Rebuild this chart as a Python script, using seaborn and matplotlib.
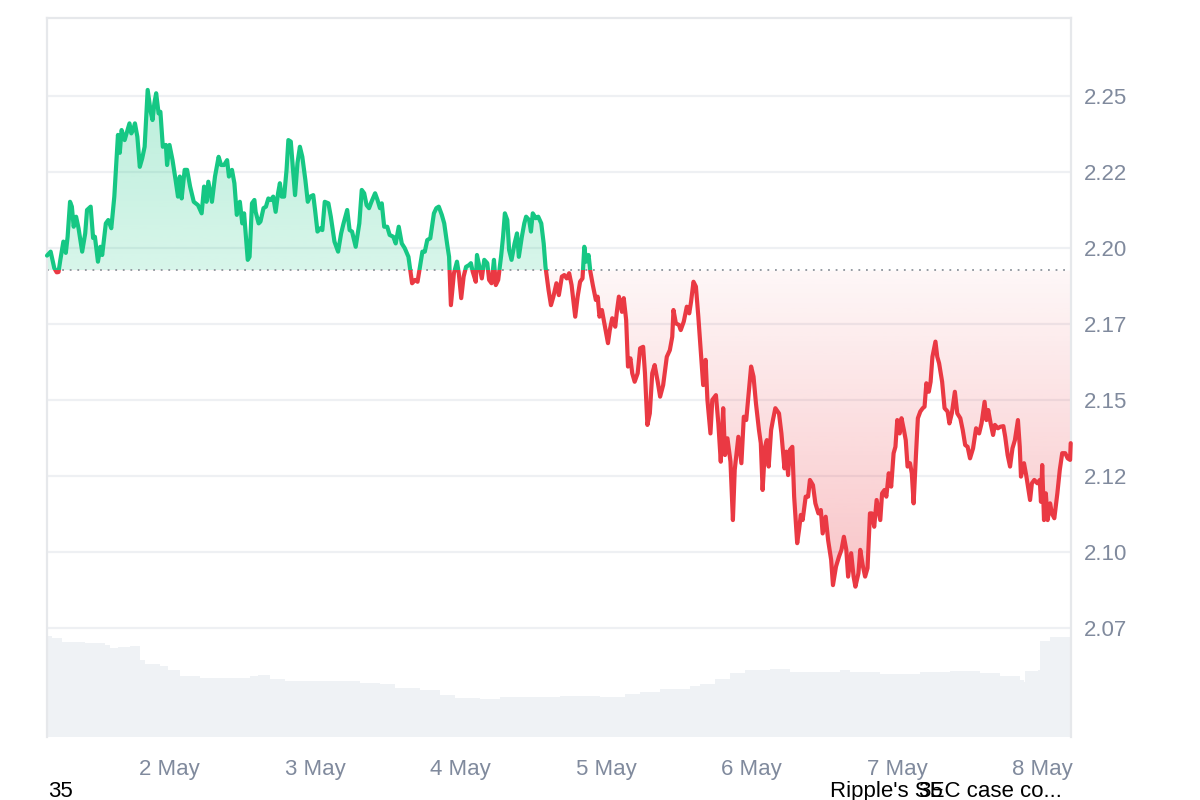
import numpy as np
import pandas as pd
import matplotlib
matplotlib.use("Agg")
import matplotlib.pyplot as plt
import seaborn as sns
from matplotlib.patches import Rectangle
from matplotlib.path import Path
from matplotlib.colors import to_rgb

# ---------------- data (hours since 1 May 00:00, price in USD) ----------------
hours_day1 = [3.8, 4.4, 5.0, 5.4, 5.7, 6.0, 6.5, 6.9, 7.2, 7.6,
              7.9, 8.2, 8.6, 9.0, 9.6, 10.1, 10.4, 11.0, 11.4, 11.7,
              12.2, 12.6, 12.9, 13.5, 13.9, 14.4, 14.9, 15.5, 15.8, 16.1,
              16.6, 17.0, 17.4, 17.7, 18.0, 18.3, 18.7, 19.1, 19.5, 19.9,
              20.4, 20.9, 21.2, 21.5, 21.8, 22.2, 22.5, 22.9, 23.4, 23.6,
              24.0, 24.5, 25.0, 25.4, 25.7, 26.0, 26.5, 26.9, 27.4, 28.0,
              28.7, 29.3, 29.7, 30.1, 30.4, 31.0, 31.5, 32.1, 32.5, 33.0,
              33.5, 33.8, 34.3, 34.7, 35.1, 35.6, 36.0, 36.3, 36.9, 37.2,
              37.6, 38.0]
price_day1 = [2.1975, 2.1988, 2.1934, 2.1920, 2.1921, 2.1961, 2.2021, 2.1984, 2.2037, 2.2152,
              2.2136, 2.2070, 2.2103, 2.2065, 2.1988, 2.2048, 2.2125, 2.2136, 2.2033, 2.2037,
              2.1955, 2.2004, 2.1977, 2.2081, 2.2092, 2.2065, 2.2169, 2.2372, 2.2313, 2.2388,
              2.2355, 2.2383, 2.2410, 2.2377, 2.2388, 2.2410, 2.2366, 2.2267, 2.2295, 2.2333,
              2.2520, 2.2448, 2.2421, 2.2476, 2.2509, 2.2443, 2.2448, 2.2333, 2.2339, 2.2273,
              2.2339, 2.2289, 2.2224, 2.2169, 2.2235, 2.2163, 2.2257, 2.2257, 2.2202, 2.2152,
              2.2141, 2.2114, 2.2202, 2.2152, 2.2218, 2.2152, 2.2235, 2.2300, 2.2273, 2.2273,
              2.2289, 2.2235, 2.2257, 2.2213, 2.2109, 2.2152, 2.2081, 2.2114, 2.1961, 2.1971,
              2.2147, 2.2158]

hours_day2 = [38.2, 38.7, 39.0, 39.5, 39.9, 40.3, 40.7, 41.1, 41.5, 41.9,
              42.2, 42.5, 42.9, 43.3, 43.6, 44.0, 44.7, 45.1, 45.5, 45.9,
              46.4, 46.8, 47.2, 47.7, 48.0, 48.4, 48.9, 49.2, 49.6, 50.2,
              50.6, 51.2, 51.8, 52.3, 52.7, 53.3, 53.7, 54.1, 54.7, 55.3,
              55.7, 56.1, 56.5, 56.9, 57.3, 57.9, 58.3, 58.7, 59.0, 59.4,
              59.9, 60.3, 60.9, 61.3, 61.8, 62.3, 62.8, 63.4, 64.0, 64.5,
              64.9, 65.4, 65.7, 66.1, 66.5, 67.0, 67.6, 68.0, 68.4, 68.9,
              69.3, 69.8, 70.1, 70.4, 70.9]
price_day2 = [2.2119, 2.2081, 2.2087, 2.2131, 2.2136, 2.2163, 2.2158, 2.2169, 2.2119, 2.2180,
              2.2213, 2.2169, 2.2169, 2.2257, 2.2355, 2.2350, 2.2174, 2.2279, 2.2333, 2.2300,
              2.2224, 2.2152, 2.2169, 2.2174, 2.2125, 2.2054, 2.2065, 2.2059, 2.2152, 2.2147,
              2.2103, 2.2021, 2.1988, 2.2048, 2.2081, 2.2125, 2.2059, 2.2054, 2.2004, 2.2081,
              2.2191, 2.2180, 2.2141, 2.2131, 2.2152, 2.2180, 2.2158, 2.2131, 2.2147, 2.2070,
              2.2070, 2.2043, 2.2037, 2.2015, 2.2070, 2.2015, 2.1999, 2.1971, 2.1884, 2.1895,
              2.1889, 2.1950, 2.1988, 2.1988, 2.2026, 2.2032, 2.2114, 2.2131, 2.2136, 2.2109,
              2.2081, 2.2010, 2.1971, 2.1812, 2.1917]

hours_day3 = [71.4, 71.7, 72.1, 72.5, 72.9, 73.4, 73.7, 74.0, 74.5, 74.7,
              75.1, 75.5, 75.9, 76.4, 76.7, 77.1, 77.5, 77.8, 78.2, 78.7,
              79.0, 79.3, 79.7, 80.0, 80.4, 80.9, 81.3, 81.6, 82.1, 82.5,
              82.8, 83.3, 83.6, 83.9, 84.4, 84.8, 85.3, 85.7, 86.0, 86.5,
              86.9, 87.3, 87.8, 88.2, 88.7, 89.1, 89.5, 89.9, 90.3, 90.9,
              91.3, 91.7, 92.1, 92.4, 92.7, 93.1, 93.4, 93.8, 94.3, 94.6,
              94.9, 95.3, 95.7, 96.3, 96.6, 97.0, 97.5, 97.8, 98.1, 98.6,
              98.9, 99.3, 99.6, 100.0, 100.3, 100.7, 101.2, 101.6, 102.1, 102.4,
              102.8, 103.2, 103.6, 104.0, 104.5, 104.9, 105.4, 106.0, 106.5, 106.9,
              107.1, 107.5, 108.0, 108.3, 108.8, 109.3, 109.7, 110.0, 110.4, 110.8]
price_day3 = [2.1955, 2.1917, 2.1835, 2.1906, 2.1938, 2.1944, 2.1950, 2.1922, 2.1889, 2.1977,
              2.1938, 2.1900, 2.1961, 2.1950, 2.1895, 2.1884, 2.1961, 2.1878, 2.1895, 2.1977,
              2.2037, 2.2114, 2.2092, 2.1993, 2.1961, 2.2015, 2.2048, 2.1971, 2.2037, 2.2081,
              2.2103, 2.2092, 2.2054, 2.2114, 2.2098, 2.2103, 2.2081, 2.2015, 2.1938, 2.1862,
              2.1812, 2.1840, 2.1884, 2.1845, 2.1906, 2.1911, 2.1900, 2.1917, 2.1878, 2.1774,
              2.1840, 2.1889, 2.1900, 2.2004, 2.1955, 2.1977, 2.1922, 2.1878, 2.1829, 2.1840,
              2.1774, 2.1796, 2.1752, 2.1687, 2.1730, 2.1769, 2.1741, 2.1796, 2.1840, 2.1790,
              2.1835, 2.1763, 2.1610, 2.1637, 2.1588, 2.1560, 2.1588, 2.1670, 2.1675, 2.1588,
              2.1418, 2.1456, 2.1588, 2.1615, 2.1560, 2.1511, 2.1549, 2.1642, 2.1664, 2.1708,
              2.1796, 2.1752, 2.1747, 2.1730, 2.1758, 2.1807, 2.1785, 2.1823, 2.1889, 2.1873]

hours_day4 = [111.2, 111.6, 112.0, 112.4, 112.7, 113.2, 113.5, 114.1, 114.5, 114.9,
              115.3, 115.6, 116.0, 116.5, 116.9, 117.2, 117.8, 118.3, 118.7, 119.1,
              119.5, 119.9, 120.3, 120.7, 121.2, 121.5, 121.8, 122.2, 122.5, 122.8,
              123.2, 123.5, 123.9, 124.5, 124.9, 125.4, 125.7, 126.0, 126.3, 126.7,
              127.0, 127.5, 127.8, 128.1, 128.4, 128.9, 129.3, 129.6, 130.1, 130.5,
              131.0, 131.4, 131.7, 132.2, 132.6, 133.1, 133.4, 133.9, 134.4, 134.8,
              135.2, 135.6, 135.9, 136.4, 136.8, 137.1, 137.6, 137.9, 138.3, 138.7,
              139.1, 139.5, 139.8, 140.2, 140.6, 140.9, 141.2, 141.5, 141.9, 142.2]
price_day4 = [2.1774, 2.1664, 2.1549, 2.1632, 2.1500, 2.1390, 2.1500, 2.1516, 2.1423, 2.1297,
              2.1473, 2.1319, 2.1374, 2.1297, 2.1105, 2.1270, 2.1379, 2.1292, 2.1445, 2.1434,
              2.1522, 2.1610, 2.1577, 2.1489, 2.1401, 2.1358, 2.1204, 2.1346, 2.1368, 2.1281,
              2.1401, 2.1434, 2.1473, 2.1456, 2.1390, 2.1275, 2.1330, 2.1253, 2.1336, 2.1346,
              2.1182, 2.1029, 2.1072, 2.1122, 2.1105, 2.1182, 2.1182, 2.1237, 2.1220, 2.1160,
              2.1127, 2.1138, 2.1061, 2.1116, 2.1039, 2.0974, 2.0891, 2.0952, 2.0985, 2.1007,
              2.1050, 2.1007, 2.0919, 2.0996, 2.0919, 2.0886, 2.0930, 2.1007, 2.0957, 2.0919,
              2.0947, 2.1127, 2.1127, 2.1083, 2.1171, 2.1138, 2.1105, 2.1193, 2.1204, 2.1182]

hours_day5 = [142.6, 143.0, 143.4, 143.7, 144.0, 144.4, 144.7, 145.1, 145.4, 145.7,
              146.1, 146.4, 146.7, 147.1, 147.4, 147.8, 148.2, 148.5, 148.8, 149.2,
              149.5, 149.8, 150.3, 150.6, 150.9, 151.4, 151.8, 152.3, 152.6, 153.0,
              153.5, 153.9, 154.4, 154.8, 155.2, 155.6, 156.0, 156.5, 157.0, 157.5,
              157.9, 158.4, 158.7, 159.0, 159.4, 159.8, 160.1, 160.6, 161.0, 161.5,
              161.8, 162.2, 162.6, 163.0, 163.4, 163.9, 164.2, 164.4, 164.9, 165.3,
              165.9, 166.2, 166.6, 167.1, 167.5, 167.7, 167.9, 168.2, 168.5, 168.8,
              169.2, 169.5, 169.9, 170.4, 170.8, 171.2, 171.7, 172.1, 172.5, 172.6]
price_day5 = [2.1259, 2.1215, 2.1325, 2.1346, 2.1434, 2.1390, 2.1440, 2.1401, 2.1368, 2.1281,
              2.1292, 2.1259, 2.1160, 2.1325, 2.1440, 2.1462, 2.1473, 2.1478, 2.1555, 2.1527,
              2.1560, 2.1642, 2.1692, 2.1642, 2.1621, 2.1560, 2.1473, 2.1462, 2.1423, 2.1456,
              2.1527, 2.1456, 2.1440, 2.1401, 2.1352, 2.1346, 2.1308, 2.1341, 2.1407, 2.1390,
              2.1423, 2.1494, 2.1434, 2.1467, 2.1423, 2.1385, 2.1418, 2.1407, 2.1412, 2.1414,
              2.1379, 2.1319, 2.1281, 2.1341, 2.1368, 2.1434, 2.1346, 2.1248, 2.1292, 2.1248,
              2.1171, 2.1226, 2.1237, 2.1226, 2.1237, 2.1165, 2.1286, 2.1105, 2.1193, 2.1105,
              2.1160, 2.1127, 2.1111, 2.1193, 2.1270, 2.1325, 2.1325, 2.1308, 2.1303, 2.1358]

# 24h trading volume (billions USD)
vol_hours = [3.8, 4.6, 6.3, 10.1, 13.4, 14.2, 15.5, 17.5, 19.2, 20.0,
             22.5, 23.8, 25.7, 29.0, 35.6, 37.3, 38.6, 40.6, 43.1, 53.8,
             55.4, 58.7, 61.2, 65.3, 68.6, 71.1, 75.2, 78.5, 85.1, 88.4,
             95.0, 99.1, 101.6, 104.9, 109.8, 111.5, 114.0, 116.4, 118.9, 123.0,
             126.3, 132.9, 134.5, 136.2, 141.1, 144.4, 147.7, 152.7, 157.6, 160.9,
             164.2, 164.9, 165.0, 167.2, 167.5, 169.2, 172.6]
vol_values = [3.51, 3.44, 3.30, 3.27, 3.20, 3.09, 3.13, 3.16, 2.68, 2.54,
              2.47, 2.33, 2.12, 2.05, 2.05, 2.12, 2.16, 2.02, 1.95, 1.95,
              1.88, 1.84, 1.70, 1.63, 1.46, 1.36, 1.32, 1.39, 1.39, 1.43,
              1.39, 1.50, 1.56, 1.67, 1.77, 1.84, 2.02, 2.23, 2.33, 2.36,
              2.26, 2.26, 2.33, 2.26, 2.19, 2.19, 2.26, 2.29, 2.23, 2.12,
              1.98, 1.91, 2.29, 2.33, 3.34, 3.48, 3.51]

base_price = 2.1926

day_ticks = [24, 48, 72, 96, 120, 144, 168]
day_labels = ["2 May", "3 May", "4 May", "5 May", "6 May", "7 May", "8 May"]
price_ticks = [2.075, 2.100, 2.125, 2.150, 2.175, 2.200, 2.225, 2.250]
price_labels = ["2.07", "2.10", "2.12", "2.15", "2.17", "2.20", "2.22", "2.25"]

# ---------------- styling ----------------
GREEN = "#16c784"
RED = "#ea3943"
TICK_COLOR = "#808a9d"
GRID_COLOR = "#eef0f3"
SPINE_COLOR = "#e6e8eb"
VOL_COLOR = "#eff2f5"

sns.set_theme(style="white")
plt.rcParams["font.family"] = ["Liberation Sans", "DejaVu Sans"]

hours = np.array(hours_day1 + hours_day2 + hours_day3 + hours_day4 + hours_day5)
prices = np.array(price_day1 + price_day2 + price_day3 + price_day4 + price_day5)
df = pd.DataFrame({"hour": hours, "price": prices})

XMIN, XMAX = 3.8, 172.65
YMIN, YMAX = 2.03914, 2.27566

fig = plt.figure(figsize=(12, 8), dpi=100)
rect = [47 / 1200, 1 - 737 / 800, (1071 - 47) / 1200, (737 - 18) / 800]
ax_vol = fig.add_axes(rect)
ax = fig.add_axes(rect, sharex=ax_vol)
ax.patch.set_visible(False)

# volume (background)
ax_vol.fill_between(vol_hours, 0, vol_values, step="post", color=VOL_COLOR, lw=0)
ax_vol.set_ylim(0, 25)
ax_vol.set_yticks([])
for s in ax_vol.spines.values():
    s.set_visible(False)
ax_vol.tick_params(axis="x", length=0, labelbottom=False)

# gradient fills clipped to area between baseline and price
fill = ax.fill_between(hours, base_price, prices, facecolor="none", edgecolor="none")
clip_path = Path.make_compound_path(*fill.get_paths())
n = 256
g = np.zeros((n, 1, 4))
g[..., :3] = to_rgb(GREEN)
g[:, 0, 3] = np.linspace(0.17, 0.29, n)
im_g = ax.imshow(g, extent=[XMIN, XMAX, base_price, prices.max()], origin="lower",
                 aspect="auto", interpolation="bilinear", zorder=1)
im_g.set_clip_path(clip_path, ax.transData)

r = np.zeros((n, 1, 4))
r[..., :3] = to_rgb(RED)
r[:, 0, 3] = np.linspace(0.30, 0.04, n)
im_r = ax.imshow(r, extent=[XMIN, XMAX, prices.min(), base_price], origin="lower",
                 aspect="auto", interpolation="bilinear", zorder=1)
im_r.set_clip_path(clip_path, ax.transData)

# baseline
ax.axhline(base_price, color="#8e939b", lw=1.3, ls=(0, (1, 3.2)), zorder=2)

# price line: green above baseline, red below
sns.lineplot(data=df, x="hour", y="price", ax=ax, color=GREEN, lw=3.0,
             estimator=None, zorder=3)
line_g = ax.lines[-1]
sns.lineplot(data=df, x="hour", y="price", ax=ax, color=RED, lw=3.0,
             estimator=None, zorder=3)
line_r = ax.lines[-1]
for ln in (line_g, line_r):
    ln.set_solid_joinstyle("round")
    ln.set_solid_capstyle("round")
clip_up = Rectangle((XMIN - 50, base_price), 400, 1.0, transform=ax.transData)
clip_dn = Rectangle((XMIN - 50, base_price - 1.0), 400, 1.0, transform=ax.transData)
line_g.set_clip_path(clip_up)
line_r.set_clip_path(clip_dn)

ax.set_xlim(XMIN, XMAX)
ax.set_ylim(YMIN, YMAX)
ax.set_xticks(day_ticks)
ax.set_xticklabels(day_labels)
ax.set_yticks(price_ticks)
ax.set_yticklabels(price_labels)
ax.yaxis.tick_right()
ax.set_xlabel("")
ax.set_ylabel("")
ax.tick_params(axis="both", length=0, labelsize=16, labelcolor=TICK_COLOR)
ax.tick_params(axis="x", pad=16)
ax.tick_params(axis="y", pad=9)
ax.grid(axis="y", color=GRID_COLOR, lw=1.6)
ax.grid(axis="x", visible=False)
ax.set_axisbelow(True)
for side in ("left", "top", "right"):
    ax.spines[side].set_visible(True)
    ax.spines[side].set_color(SPINE_COLOR)
    ax.spines[side].set_linewidth(1.6)
ax.spines["bottom"].set_visible(False)

# stray texts at the bottom
fig.text(48 / 1200, 1 - 797 / 800, "35", fontsize=16, color="black", ha="left", va="baseline")
fig.text(830 / 1200, 1 - 797 / 800, "Ripple's SEC case co...", fontsize=16, color="black",
         ha="left", va="baseline")
fig.text(918 / 1200, 1 - 797 / 800, "35", fontsize=16, color="black", ha="left", va="baseline")

fig.savefig("out.png", dpi=100)
